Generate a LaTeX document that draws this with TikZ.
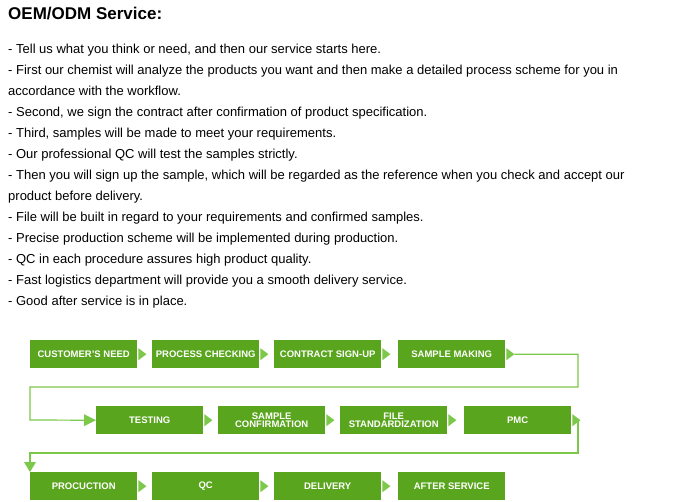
\documentclass[tikz,border=0pt]{standalone}
\usepackage{fontspec}
\setmainfont{Liberation Sans}
\definecolor{boxg}{HTML}{5AA51E}
\definecolor{lineg}{HTML}{7CC84A}
\begin{document}
\begin{tikzpicture}[x=1pt,y=1pt,
  box/.style={fill=boxg,minimum width=107pt,minimum height=28pt,inner sep=1pt,text=white,font=\fontsize{9.5}{9}\selectfont\bfseries,align=center,anchor=north west},
  tri/.style={fill=lineg,draw=none},
  con/.style={draw=lineg,line width=1.2pt},
  txt/.style={anchor=base west,inner sep=0,font=\fontsize{13}{15}\selectfont}]
\useasboundingbox (0,0) rectangle (680,-502);
\node[anchor=base west,inner sep=0,font=\fontsize{17}{20}\selectfont\bfseries] (title) at (8,-20) {OEM/ODM Service:};
\foreach \t [count=\i] in {
- Tell us what you think or need{,} and then our service starts here.,
- First our chemist will analyze the products you want and then make a detailed process scheme for you in,
accordance with the workflow.,
- Second{,} we sign the contract after confirmation of product specification.,
- Third{,} samples will be made to meet your requirements.,
- Our professional QC will test the samples strictly.,
- Then you will sign up the sample{,} which will be regarded as the reference when you check and accept our,
product before delivery.,
- File will be built in regard to your requirements and confirmed samples.,
- Precise production scheme will be implemented during production.,
- QC in each procedure assures high product quality.,
- Fast logistics department will provide you a smooth delivery service.,
- Good after service is in place.}
  \node[txt] (l\i) at (8,{-54-21*(\i-1)}) {\t};
% boxes
\node[box] (a1) at (30,-340) {CUSTOMER'S NEED};
\node[box] (a2) at (152,-340) {PROCESS CHECKING};
\node[box] (a3) at (274,-340) {CONTRACT SIGN-UP};
\node[box] (a4) at (398,-340) {SAMPLE MAKING};
\node[box] (b1) at (96,-406) {TESTING};
\node[box] (b2) at (218,-406) {SAMPLE\\[-1pt]CONFIRMATION};
\node[box] (b3) at (340,-406) {FILE\\[-1pt]STANDARDIZATION};
\node[box] (b4) at (464,-406) {PMC};
\node[box] (c1) at (30,-472) {PROCUCTION};
\node[box] (c2) at (152,-472) {QC};
\node[box] (c3) at (274,-472) {DELIVERY};
\node[box] (c4) at (398,-472) {AFTER SERVICE};
% small triangles
\foreach \n in {a1,a2,a3,a4,b1,b2,b3,b4,c1,c2,c3}
  \fill[lineg] ([xshift=1pt]\n.east) ++(0,6) -- ++(8,-6) -- ++(-8,-6) -- cycle;
% connectors
\coordinate (k1) at (578,-387);
\coordinate (k2) at (578,-453);
\draw[con] ([xshift=9pt]a4.east) -| (k1) -| (30,-420) -- ([xshift=-12pt]b1.west);
\fill[lineg] ([xshift=-12pt]b1.west) ++(0,6) -- ++(12,-6) -- ++(-12,-6) -- cycle;
\draw[con] ([xshift=9pt]b4.east) -| (k2) -| ([yshift=10pt]c1.north west);
\fill[lineg] ([yshift=10pt]c1.north west) ++(-6,0) -- ++(6,-10) -- ++(6,10) -- cycle;
\end{tikzpicture}
\end{document}
